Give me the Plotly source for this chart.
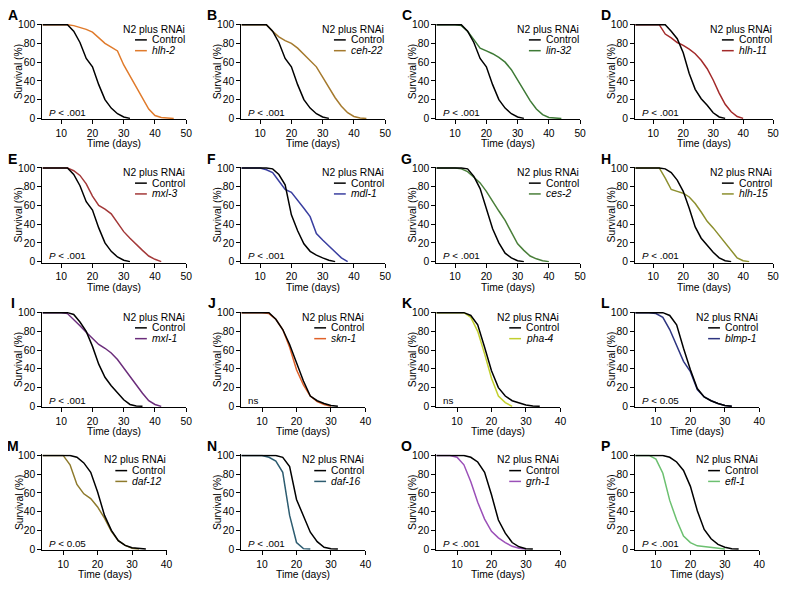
import plotly.graph_objects as go

# survival (%) on a common 2-day grid
DAYS = [4, 6, 8, 10, 12, 14, 16, 18, 20, 22, 24, 26, 28, 30, 32, 34, 36, 38, 40, 42, 44, 46]
N = None

ctrl_ABCE = [100, 100, 100, 100, 100, 93, 81, 64, 55, 36, 20, 11, 5, 1.5, 0, N, N, N, N, N, N, N]
hlh2 = [100, 100, 100, 100, 100, 99, 97, 95, 92, 86, 80, 76, 72, 57, 45, 33, 21, 10, 3, 1, 0.5, 0]
ceh22 = [100, 100, 100, 100, 100, 93, 87, 83, 80, 75, 68, 61, 55, 44, 33, 22, 13, 6, 2, 0.5, 0, N]
lin32 = [100, 100, 100, 100, 99, 93, 84, 75, 72, 69, 65, 60, 52, 41, 30, 19, 10, 4, 1, 0.3, 0, N]
ctrl_D = [100, 100, 100, 100, 100, 100, 93, 85, 70, 48, 31, 21, 14, 6, 1.5, 0, N, N, N, N, N, N]
hlh11 = [100, 100, 100, 100, 100, 90, 86, 81, 78, 74, 69, 62, 53, 41, 27, 15, 7, 2, 0, N, N, N]
mxl3 = [100, 100, 100, 100, 100, 97, 92, 83, 70, 60, 56, 51, 41, 32, 25, 18, 12, 6, 2.5, 0, N, N]
ctrl_F = [100, 100, 100, 100, 100, 99, 93, 82, 50, 33, 19, 11, 7, 4, 1.5, 0, N, N, N, N, N, N]
mdl1 = [100, 100, 100, 100, 98, 95, 86, 77, 74, 66, 57, 48, 30, 23, 17, 10, 4, 0, N, N, N, N]
ctrl_G = [100, 100, 100, 100, 100, 99, 91, 78, 57, 35, 20, 9, 4, 1, 0, N, N, N, N, N, N, N]
ces2 = [100, 100, 100, 100, 99, 96, 90, 84, 75, 64, 54, 44, 31, 19, 12, 6, 3, 1, 0, N, N, N]
ctrl_H = [100, 100, 100, 100, 100, 99, 95, 87, 75, 57, 37, 25, 17, 10, 4, 1, 0, N, N, N, N, N]
hlh15 = [100, 100, 100, 100, 100, 89, 77, 75, 73, 69, 62, 53, 43, 36, 28, 19, 11, 4, 1, 0, N, N]
ctrl_I = [100, 100, 100, 100, 100, 98, 90, 80, 64, 45, 31, 22, 14, 7, 2, 0.5, 0, N, N, N, N, N]
mxl1 = [100, 100, 100, 100, 99, 93, 86, 79, 72, 66, 62, 57, 50, 41, 31, 23, 14, 6, 2, 0, N, N]
ctrl_J = [100, 100, 100, 100, 100, 93, 82, 66, 46, 27, 11, 6, 3, 1, 0, N, N, N, N, N, N, N]
skn1 = [100, 100, 100, 100, 99, 93, 82, 63, 39, 23, 11, 5, 2, 0, N, N, N, N, N, N, N, N]
ctrl_K = [100, 100, 100, 100, 100, 97, 87, 63, 38, 20, 11, 6, 3.5, 1.5, 0.5, 0, N, N, N, N, N, N]
pha4 = [100, 100, 100, 100, 100, 95, 80, 56, 30, 11, 4, 0, N, N, N, N, N, N, N, N, N, N]
ctrl_L = [100, 100, 100, 100, 100, 97, 87, 62, 39, 19, 10, 6, 3, 1, 0, N, N, N, N, N, N, N]
blmp1 = [100, 100, 100, 99, 95, 82, 65, 48, 37, 18, 10, 6, 3, 1, 0, N, N, N, N, N, N, N]
ctrl_M = [100, 100, 100, 100, 100, 98, 92, 82, 61, 36, 20, 9, 4, 1.5, 0.5, 0, N, N, N, N, N, N]
daf12 = [100, 100, 100, 100, 90, 69, 59, 54, 45, 33, 19, 9, 4, 1, 0, N, N, N, N, N, N, N]
ctrl_N = [100, 100, 100, 100, 100, 100, 98, 88, 53, 35, 18, 8, 2, 0.5, 0, N, N, N, N, N, N, N]
daf16 = [100, 100, 100, 100, 98, 94, 82, 36, 7, 0.5, 0, N, N, N, N, N, N, N, N, N, N, N]
ctrl_O = [100, 100, 100, 100, 100, 98, 93, 82, 58, 31, 17, 7, 2.5, 0.5, 0, N, N, N, N, N, N, N]
grh1 = [100, 100, 100, 98, 90, 72, 50, 32, 19, 12, 7, 3, 1, 0, N, N, N, N, N, N, N, N]
ctrl_P = [100, 100, 100, 100, 100, 98, 93, 84, 67, 41, 21, 11, 5, 2, 0.3, 0, N, N, N, N, N, N]
efl1 = [100, 100, 100, 96, 81, 52, 31, 14, 7, 3.5, 2.5, 1.5, 0.5, 0, N, N, N, N, N, N, N, N]

# letter, gene, colour, x max, p-value label, control, RNAi
PANELS = [
    ("A", "hlh-2", "#E07B2C", 50, "<i>P</i> < .001", ctrl_ABCE, hlh2),
    ("B", "ceh-22", "#A57A2E", 50, "<i>P</i> < .001", ctrl_ABCE, ceh22),
    ("C", "lin-32", "#3E7A36", 50, "<i>P</i> < .001", ctrl_ABCE, lin32),
    ("D", "hlh-11", "#A32A2A", 50, "<i>P</i> < .001", ctrl_D, hlh11),
    ("E", "mxl-3", "#A33838", 50, "<i>P</i> < .001", ctrl_ABCE, mxl3),
    ("F", "mdl-1", "#3A3FA0", 50, "<i>P</i> < .001", ctrl_F, mdl1),
    ("G", "ces-2", "#4A7F3A", 50, "<i>P</i> < .001", ctrl_G, ces2),
    ("H", "hlh-15", "#8C8F2E", 50, "<i>P</i> < .001", ctrl_H, hlh15),
    ("I", "mxl-1", "#6B2D7B", 50, "<i>P</i> < .001", ctrl_I, mxl1),
    ("J", "skn-1", "#E0622A", 40, "ns", ctrl_J, skn1),
    ("K", "pha-4", "#C2CF2E", 40, "ns", ctrl_K, pha4),
    ("L", "blmp-1", "#2E3580", 40, "<i>P</i> < 0.05", ctrl_L, blmp1),
    ("M", "daf-12", "#8E7A2C", 40, "<i>P</i> < 0.05", ctrl_M, daf12),
    ("N", "daf-16", "#2D5C70", 40, "<i>P</i> < .001", ctrl_N, daf16),
    ("O", "grh-1", "#9B50B8", 40, "<i>P</i> < .001", ctrl_O, grh1),
    ("P", "efl-1", "#6CC070", 40, "<i>P</i> < .001", ctrl_P, efl1),
]

# the page body keeps an 8 px margin, so the figure is 16 px smaller than
# the window; the layout below is in reference px and the box it spans
# (x 1..786, y 1..585) is mapped onto the paper
PAD = 8
W, H = 789 - 2 * PAD, 589 - 2 * PAD
BX0, BX1, BY0, BY1 = 1, 786, 1, 585
FONT = "Liberation Sans, Arial, sans-serif"
FS = 10.3
COL_LEFT = [36, 238, 436, 638]    # reference px of each y axis
ROW_TOP = [18, 164, 311.5, 457]   # reference px of the 100 % line
PLOT_H = 95.5                      # 100 % -> 0 %
X0 = 4


def px(x):
    return (x - BX0) / (BX1 - BX0)


def py(y):
    return 1 - (y - BY0) / (BY1 - BY0)


def note(text, x, y, size=FS, **kw):
    d = dict(text=text, xref="paper", yref="paper", x=px(x), y=py(y),
             xanchor="center", yanchor="middle", showarrow=False,
             font=dict(size=size, family=FONT, color="black"))
    d.update(kw)
    return d


fig = go.Figure()
layout = dict(
    width=W, height=H,
    paper_bgcolor="white", plot_bgcolor="white",
    margin=dict(l=0, r=0, t=0, b=0, autoexpand=False),
    showlegend=False,
    font=dict(family=FONT, size=FS, color="black"),
)
annotations = []
shapes = []
unit = PLOT_H / 100

for i, (letter, gene, color, xmax, pval, ctrl, treat) in enumerate(PANELS):
    r, c = divmod(i, 4)
    left = COL_LEFT[c]
    right = min(left + (146 if xmax == 50 else 126), 778)
    top = ROW_TOP[r]
    bottom = top + PLOT_H
    sfx = "" if i == 0 else str(i + 1)

    for vals, col in ((treat, color), (ctrl, "black")):
        fig.add_trace(go.Scatter(
            x=DAYS, y=vals, mode="lines",
            line=dict(color=col, width=1.5),
            xaxis="x" + sfx, yaxis="y" + sfx,
            hoverinfo="skip",
        ))

    axis_common = dict(
        showline=True, linecolor="black", linewidth=1.3,
        ticks="outside", ticklen=4, tickwidth=1.3, tickcolor="black",
        showgrid=False, zeroline=False, fixedrange=True, automargin=False,
        tickfont=dict(size=FS, family=FONT),
    )
    layout["xaxis" + sfx] = dict(
        axis_common,
        domain=[px(left), px(right)],
        range=[X0, xmax],
        tickvals=list(range(10, xmax + 1, 10)),
        anchor="y" + sfx,
    )
    layout["yaxis" + sfx] = dict(
        axis_common,
        domain=[py(bottom + unit), py(top - unit)],
        range=[-1, 101],
        tickvals=[0, 20, 40, 60, 80, 100],
        anchor="x" + sfx,
    )

    # axis titles
    annotations.append(note("Survival (%)", left - 24, (top + bottom) / 2, textangle=-90))
    annotations.append(note("Time (days)", (left + right) / 2, bottom + 26))
    # panel letter
    annotations.append(note(f"<b>{letter}</b>", left - 30, top - 9.5, size=14))
    # legend block
    annotations.append(note("N2 plus RNAi", right - 66, top + 4.5, xanchor="left"))
    for k, (label, col) in enumerate((("Control", "black"), (f"<i>{gene}</i>", color))):
        yy = top + 15.5 + 11 * k
        annotations.append(note(label, right - 37, yy, xanchor="left"))
        shapes.append(dict(
            type="line", xref="paper", yref="paper",
            x0=px(right - 52), x1=px(right - 40), y0=py(yy), y1=py(yy),
            line=dict(color=col, width=1.5),
        ))
    # p value
    annotations.append(note(pval, left + 5, bottom - 6, size=FS - 0.5, xanchor="left"))

layout["annotations"] = annotations
layout["shapes"] = shapes
fig.update_layout(**layout)
fig.write_html("out.html")
